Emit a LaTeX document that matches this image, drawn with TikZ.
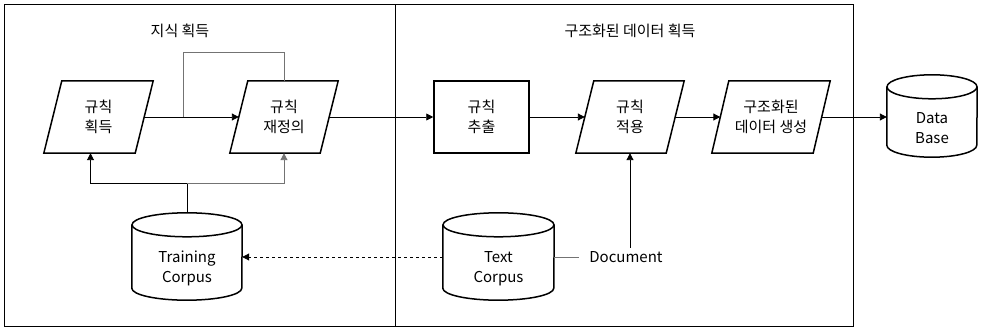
\documentclass[tikz,border=0pt]{standalone}
\usepackage{fontspec}
\setmainfont{Noto Sans CJK KR}
\usetikzlibrary{shapes.geometric, arrows.meta}

\tikzset{
  txt/.style={font=\fontsize{15}{20}\selectfont, align=center},
  step box/.style={txt, draw, line width=1.5pt, minimum width=95pt, minimum height=72pt},
  para box/.style={txt, minimum height=72pt},
  db body/.style={txt, inner sep=0pt},
  link/.style={line width=0.9pt, -{Triangle[length=7pt,width=7pt]}},
  plain/.style={line width=0.9pt},
  greylink/.style={line width=0.9pt, gray!90!black},
}

% Parallelogramm um einen Knoten
\newcommand{\paraframe}[2]{%
  \draw[line width=1.5pt] ([xshift=#2]#1.north west) -- ([xshift=#2]#1.north east)
    -- ([xshift=-#2]#1.south east) -- ([xshift=-#2]#1.south west) -- cycle;}
% Zylinder um einen Knoten (Name, Radius x, Radius y)
\newcommand{\cylframe}[3]{%
  \draw[line width=1.5pt] ([yshift=#3]#1.north) ellipse [x radius=#2, y radius=#3];
  \draw[line width=1.5pt] ([yshift=#3]#1.north west) -- ([yshift=#3]#1.south west)
    arc [start angle=180, end angle=360, x radius=#2, y radius=#3] -- ([yshift=#3]#1.north east);}

\begin{document}
\begin{tikzpicture}[x=1pt,y=-1pt]
  \useasboundingbox (0,0) rectangle (988,334);

  % Rahmen
  \draw[line width=0.9pt] (4,4) rectangle (395,326);
  \draw[line width=0.9pt] (395,4) rectangle (853,326);
  \node[txt] (title1) at (180,31) {지식 획득};
  \node[txt] (title2) at (630,31) {구조화된 데이터 획득};

  % Knoten
  \node[para box, minimum width=91pt] (acq) at (98.5,117) {규칙\\획득};
  \node[para box, minimum width=90pt] (redef) at (284,117) {규칙\\재정의};
  \node[step box] (extract) at (481.5,117) {규칙\\추출};
  \node[para box, minimum width=90pt] (apply) at (630,117) {규칙\\적용};
  \node[para box, minimum width=101pt] (gen) at (771,117) {구조화된\\데이터 생성};
  \paraframe{acq}{9pt}
  \paraframe{redef}{9pt}
  \paraframe{apply}{9pt}
  \paraframe{gen}{8.5pt}

  % Datenbanken (Körper unter dem oberen Deckel)
  \node[db body, minimum width=90pt, minimum height=58pt] (base) at (932,128) {Data\\Base};
  \node[db body, minimum width=110pt, minimum height=63pt] (train) at (187,268.5) {Training\\Corpus};
  \node[db body, minimum width=111pt, minimum height=63pt] (text) at (498.5,268.5) {Text\\Corpus};
  \cylframe{base}{45pt}{12pt}
  \cylframe{train}{55pt}{12pt}
  \cylframe{text}{55.5pt}{12pt}
  \node[txt, inner xsep=10pt] (doc) at (626,257) {Document};

  % Verbindungen
  \draw[link] (acq.east) -- (redef.west);
  \coordinate (split) at (183,117);
  \draw[greylink] (split) |- ([yshift=28pt]redef.north) -- (redef.north);
  \draw[link] (redef.east) -- (extract.west);
  \draw[link] (extract.east) -- (apply.west);
  \draw[link] (apply.east) -- (gen.west);
  \draw[link] (gen.east) -- (gen.east -| base.west);

  \draw[plain] ([yshift=24pt]train.north) -- ++(0,-29) coordinate (fork);
  \draw[link] (fork) -| ([xshift=-8pt]acq.south);
  \draw[link, gray!90!black] (fork) -| (redef.south);

  \draw[link, dashed] ([yshift=11.5pt]text.west) -- ([yshift=11.5pt]train.east);
  \draw[greylink] ([yshift=11.5pt]text.east) -- (doc.west);
  \draw[link] (apply.south |- doc.north) -- (apply.south);
\end{tikzpicture}
\end{document}
